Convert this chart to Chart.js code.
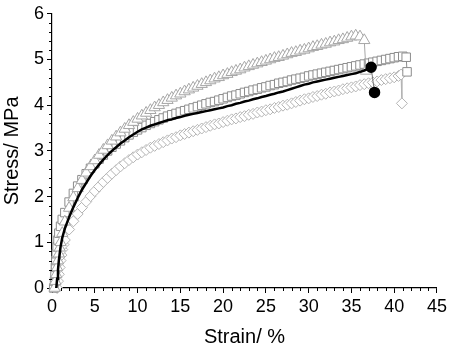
<!DOCTYPE html>
<html>
<head>
<meta charset="utf-8">
<script src="https://cdn.jsdelivr.net/npm/chart.js@4.4.0/dist/chart.umd.min.js"></script>
<style>
  html, body { margin: 0; padding: 0; background: #fff; }
  #wrap { width: 450px; height: 349px; }
</style>
</head>
<body>
<div id="wrap"><canvas id="chart"></canvas></div>
<script>
// shared strain grid (%) for the main part of every curve
const strainGrid = [1.5, 2, 2.5, 3, 3.5, 4, 4.5, 5, 5.5, 6, 6.5, 7, 7.5, 8, 8.5, 9, 9.5, 10,
  10.5, 11, 11.5, 12, 12.5, 13, 13.5, 14, 14.5, 15, 15.5, 16, 16.5, 17, 17.5, 18, 18.5, 19,
  19.5, 20, 20.5, 21, 21.5, 22, 22.5, 23, 23.5, 24, 24.5, 25, 25.5, 26, 26.5, 27, 27.5, 28,
  28.5, 29, 29.5, 30, 30.5, 31, 31.5, 32, 32.5, 33, 33.5, 34, 34.5, 35, 35.5, 36, 36.5, 37,
  37.5, 38, 38.5, 39, 39.5, 40, 40.5, 41];

// triangles
const triHeadStrain = [0.3, 0.4, 0.5, 0.6, 0.7, 0.8, 0.9, 1.0, 1.2];
const triHeadStress = [0, 0.15, 0.3, 0.45, 0.6, 0.75, 0.88, 1.0, 1.2];
const triStress = [1.45, 1.75, 1.98, 2.18, 2.36, 2.52, 2.66, 2.79, 2.91, 3.02, 3.12, 3.22, 3.31, 3.4,
  3.48, 3.56, 3.63, 3.7, 3.77, 3.83, 3.89, 3.95, 4.0, 4.06, 4.11, 4.16, 4.21, 4.25, 4.3, 4.34,
  4.38, 4.42, 4.46, 4.5, 4.54, 4.58, 4.61, 4.65, 4.68, 4.72, 4.75, 4.78, 4.82, 4.85, 4.88, 4.91,
  4.94, 4.97, 5.0, 5.03, 5.05, 5.08, 5.11, 5.14, 5.16, 5.19, 5.21, 5.24, 5.27, 5.29, 5.32, 5.34,
  5.37, 5.39, 5.42, 5.44, 5.47, 5.5, 5.52, 5.5];
const triBreakStrain = [36.5, 36.7];
const triBreakStress = [5.42, 4.75];

// squares
const sqHeadStrain = [0.2, 0.3, 0.35, 0.4, 0.45, 0.5, 0.6, 0.7, 0.8, 1.0, 1.2];
const sqHeadStress = [0, 0.15, 0.3, 0.45, 0.6, 0.75, 0.9, 1.05, 1.2, 1.35, 1.5];
const sqStress = [1.65, 1.88, 2.07, 2.23, 2.37, 2.5, 2.62, 2.72, 2.82, 2.91, 3.0, 3.08, 3.15, 3.22,
  3.29, 3.35, 3.41, 3.46, 3.51, 3.56, 3.6, 3.64, 3.68, 3.72, 3.76, 3.79, 3.82, 3.85, 3.88, 3.91,
  3.94, 3.97, 4.0, 4.03, 4.06, 4.08, 4.11, 4.14, 4.17, 4.2, 4.22, 4.25, 4.28, 4.3, 4.33, 4.35,
  4.38, 4.4, 4.43, 4.45, 4.48, 4.5, 4.52, 4.55, 4.57, 4.59, 4.61, 4.64, 4.66, 4.68, 4.7, 4.72,
  4.74, 4.76, 4.78, 4.8, 4.82, 4.84, 4.86, 4.88, 4.9, 4.92, 4.94, 4.96, 4.98, 5.0, 5.02, 5.04,
  5.06, 5.07];
const sqBreakStrain = [41.4, 41.5];
const sqBreakStress = [5.05, 4.73];

// filled circles
const dotHeadStrain = [0.5, 0.6, 0.7, 0.8, 0.9, 1.0, 1.2];
const dotHeadStress = [0, 0.2, 0.4, 0.6, 0.75, 0.9, 1.1];
const dotStress = [1.3, 1.55, 1.77, 1.97, 2.15, 2.3, 2.45, 2.58, 2.7, 2.81, 2.91, 3.0, 3.08, 3.16,
  3.23, 3.3, 3.36, 3.42, 3.47, 3.51, 3.55, 3.58, 3.61, 3.64, 3.67, 3.69, 3.72, 3.74, 3.77, 3.79,
  3.81, 3.83, 3.85, 3.87, 3.89, 3.91, 3.93, 3.95, 3.98, 4.0, 4.03, 4.05, 4.08, 4.1, 4.13, 4.15,
  4.18, 4.2, 4.23, 4.25, 4.28, 4.3, 4.33, 4.36, 4.39, 4.42, 4.45, 4.47, 4.5, 4.52, 4.54, 4.56,
  4.58, 4.6, 4.62, 4.64, 4.66, 4.68, 4.7, 4.73, 4.76, 4.8];
const dotBreakStrain = [37.3, 37.7];
const dotBreakStress = [4.83, 4.28];

// diamonds
const diaHeadStrain = [0.6, 0.7, 0.8, 0.9, 1.0, 1.1, 1.2, 1.35];
const diaHeadStress = [0, 0.15, 0.3, 0.45, 0.6, 0.72, 0.84, 0.95];
const diaStress = [1.05, 1.28, 1.46, 1.62, 1.76, 1.89, 2.01, 2.12, 2.22, 2.32, 2.41, 2.5, 2.58, 2.66,
  2.73, 2.8, 2.86, 2.92, 2.97, 3.02, 3.07, 3.11, 3.15, 3.19, 3.23, 3.27, 3.3, 3.34, 3.37, 3.4,
  3.43, 3.46, 3.49, 3.52, 3.55, 3.58, 3.6, 3.63, 3.66, 3.69, 3.71, 3.74, 3.76, 3.79, 3.81, 3.84,
  3.86, 3.89, 3.91, 3.94, 3.96, 3.99, 4.01, 4.04, 4.07, 4.1, 4.13, 4.15, 4.18, 4.2, 4.23, 4.25,
  4.28, 4.3, 4.32, 4.35, 4.37, 4.39, 4.41, 4.44, 4.46, 4.48, 4.5, 4.52, 4.55, 4.57, 4.59, 4.61,
  4.64];
const diaBreakStrain = [40.8, 40.9];
const diaBreakStress = [4.67, 4.04];

const xTicks = [0, 5, 10, 15, 20, 25, 30, 35, 40, 45];
const yTicks = [0, 1, 2, 3, 4, 5, 6];

function buildCurve(headX, headY, bodyY, breakX, breakY) {
  const pts = headX.map((x, i) => ({ x: x, y: headY[i] }));
  bodyY.forEach((y, i) => pts.push({ x: strainGrid[i], y: y }));
  breakX.forEach((x, i) => pts.push({ x: x, y: breakY[i] }));
  return pts;
}

// open (white filled) markers, thin line only for the drop after break
function openSeries(data, style, color, radius) {
  const n = data.length;
  return {
    data: data,
    showLine: true,
    borderWidth: 1,
    borderColor: color,
    segment: {
      borderColor: ctx => ctx.p1DataIndex >= n - 2 ? color : 'rgba(0,0,0,0)'
    },
    pointStyle: style,
    pointRadius: radius,
    pointBorderColor: color,
    pointBorderWidth: 1,
    pointBackgroundColor: '#fff',
    clip: false
  };
}

const dotData = buildCurve(dotHeadStrain, dotHeadStress, dotStress, dotBreakStrain, dotBreakStress);
const nDot = dotData.length;

// minor ticks, outward
const minorTicks = {
  id: 'minorTicks',
  afterDraw(chart) {
    const c = chart.ctx, xs = chart.scales.x, ys = chart.scales.y;
    c.save();
    c.strokeStyle = '#000';
    c.lineWidth = 1;
    c.beginPath();
    for (let i = 0; i <= 45; i++) {
      if (i % 5 === 0) continue;
      const px = Math.round(xs.getPixelForValue(i)) + 0.5;
      c.moveTo(px, ys.bottom);
      c.lineTo(px, ys.bottom + 3);
    }
    for (let i = 0; i <= 30; i++) {
      if (i % 5 === 0) continue;
      const py = Math.round(ys.getPixelForValue(i / 5)) + 0.5;
      c.moveTo(xs.left - 3, py);
      c.lineTo(xs.left, py);
    }
    c.stroke();
    c.restore();
  }
};

const tickFont = { family: 'Liberation Sans, Arial, sans-serif', size: 18 };
const titleFont = { family: 'Liberation Sans, Arial, sans-serif', size: 20 };

new Chart(document.getElementById('chart'), {
  type: 'scatter',
  data: {
    datasets: [
      {
        data: dotData,
        showLine: true,
        borderColor: '#000',
        borderWidth: 2.5,
        segment: {
          borderWidth: ctx => ctx.p1DataIndex >= nDot - 1 ? 1 : 2.5,
          borderColor: ctx => ctx.p1DataIndex >= nDot - 1 ? '#777' : '#000'
        },
        pointStyle: 'circle',
        pointRadius: ctx => ctx.dataIndex >= nDot - 2 ? 4.5 : 0,
        pointBackgroundColor: '#000',
        pointBorderColor: '#000',
        clip: false
      },
      openSeries(buildCurve(triHeadStrain, triHeadStress, triStress, triBreakStrain, triBreakStress), 'triangle', '#a6a6a6', 6.5),
      openSeries(buildCurve(sqHeadStrain, sqHeadStress, sqStress, sqBreakStrain, sqBreakStress), 'rect', '#8c8c8c', 6),
      openSeries(buildCurve(diaHeadStrain, diaHeadStress, diaStress, diaBreakStrain, diaBreakStress), 'rectRot', '#b4b4b4', 5.5)
    ]
  },
  options: {
    responsive: true,
    maintainAspectRatio: false,
    animation: false,
    layout: { padding: { top: 9, right: 11, left: 0, bottom: 0 } },
    plugins: { legend: { display: false }, tooltip: { enabled: false } },
    scales: {
      x: {
        type: 'linear',
        min: 0,
        max: 45,
        afterFit: s => { s.height = 61; },
        afterBuildTicks: s => { s.ticks = xTicks.map(v => ({ value: v })); },
        ticks: { color: '#000', font: tickFont, padding: 3, maxRotation: 0 },
        grid: { drawOnChartArea: false, color: '#000', tickLength: 5 },
        border: { color: '#000', width: 1.2 },
        title: { display: true, text: 'Strain/ %', color: '#000', font: titleFont, padding: { top: 0, bottom: 0 } }
      },
      y: {
        min: 0,
        max: 6,
        afterFit: s => { s.width = 52; },
        afterBuildTicks: s => { s.ticks = yTicks.map(v => ({ value: v })); },
        ticks: { color: '#000', font: tickFont, padding: 3 },
        grid: { drawOnChartArea: false, color: '#000', tickLength: 5 },
        border: { color: '#000', width: 1.2 },
        title: { display: true, text: 'Stress/ MPa', color: '#000', font: titleFont, padding: { top: 0, bottom: 0 } }
      }
    }
  },
  plugins: [minorTicks]
});
</script>
</body>
</html>
